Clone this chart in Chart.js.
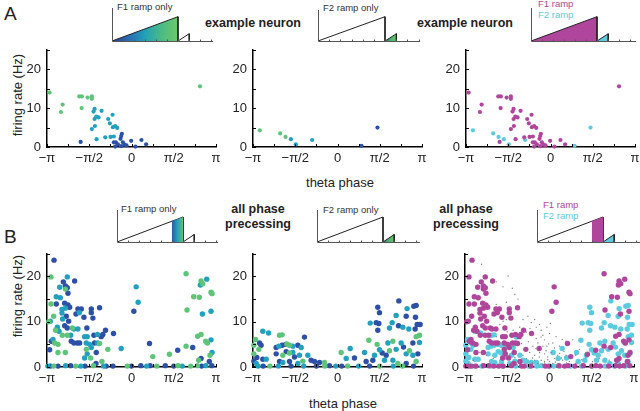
<!DOCTYPE html>
<html>
<head>
<meta charset="utf-8">
<script src="https://cdn.jsdelivr.net/npm/chart.js@4.4.0/dist/chart.umd.min.js"></script>
<style>
body { margin: 0; background: #fff; }
#fig { position: relative; width: 640px; height: 411px; overflow: hidden;
       font-family: "Liberation Sans", Arial, sans-serif; color: #222; }
canvas { position: absolute; }
.t { position: absolute; white-space: nowrap; line-height: 1; transform: translate(-50%, -50%); }
.l { position: absolute; white-space: nowrap; line-height: 1; transform: translateY(-50%); }
.lbl { font-size: 13px; }
.bold { font-weight: bold; font-size: 12.5px; }
.ins { font-size: 9.5px; color: #333; }
.panel { font-size: 19px; }
</style>
</head>
<body>
<div id="fig">
  <div class="l panel" style="left:4px;top:13px">A</div>
  <div class="l panel" style="left:4px;top:236px">B</div>

  <div class="t lbl" style="left:17px;top:95px;transform:translate(-50%,-50%) rotate(-90deg)">firing rate (Hz)</div>
  <div class="t lbl" style="left:17px;top:296px;transform:translate(-50%,-50%) rotate(-90deg)">firing rate (Hz)</div>
  <div class="t lbl" style="left:340px;top:182px">theta phase</div>
  <div class="t lbl" style="left:343px;top:403px">theta phase</div>

  <div class="t bold" style="left:253px;top:23px">example neuron</div>
  <div class="t bold" style="left:465px;top:23px">example neuron</div>
  <div class="t bold" style="left:258px;top:209px">all phase</div>
  <div class="t bold" style="left:258px;top:224px">precessing</div>
  <div class="t bold" style="left:466px;top:209px">all phase</div>
  <div class="t bold" style="left:466px;top:224px">precessing</div>

  <div class="l ins" style="left:117px;top:7px">F1 ramp only</div>
  <div class="l ins" style="left:323px;top:8px">F2 ramp only</div>
  <div class="l ins" style="left:538px;top:4px;color:#b0469c">F1 ramp</div>
  <div class="l ins" style="left:538px;top:15px;color:#5ccbe0">F2 ramp</div>
  <div class="l ins" style="left:121px;top:209px">F1 ramp only</div>
  <div class="l ins" style="left:323px;top:210px">F2 ramp only</div>
  <div class="l ins" style="left:543px;top:205px;color:#b0469c">F1 ramp</div>
  <div class="l ins" style="left:543px;top:216px;color:#5ccbe0">F2 ramp</div>

  <canvas id="insA1" width="102" height="34" style="left:111px;top:8px"></canvas>
  <canvas id="insA2" width="103" height="32" style="left:317px;top:10px"></canvas>
  <canvas id="insA3" width="106" height="34" style="left:530px;top:8px"></canvas>
  <canvas id="insB1" width="102" height="33" style="left:116px;top:210px"></canvas>
  <canvas id="insB2" width="104" height="33" style="left:316px;top:210px"></canvas>
  <canvas id="insB3" width="104" height="33" style="left:536px;top:210px"></canvas>

  <canvas id="a1" width="213" height="135" style="left:13px;top:36px"></canvas>
  <canvas id="a2" width="213" height="135" style="left:219px;top:36px"></canvas>
  <canvas id="a3" width="213" height="135" style="left:432px;top:36px"></canvas>
  <canvas id="b1" width="213" height="151" style="left:13px;top:240px"></canvas>
  <canvas id="b2" width="213" height="151" style="left:219px;top:240px"></canvas>
  <canvas id="b3" width="213" height="151" style="left:431px;top:240px"></canvas>
</div>
<script>
// phase in multiples of pi, rate in Hz
const a1Green = [[-0.969,14.0],[0.811,15.6],[-0.815,10.9],[-0.835,9.0],[-0.618,13.0],[-0.587,13.0],
  [-0.52,12.7],[-0.469,13.0],[-0.469,12.4],[-0.59,10.0]];
const a1Teal = [[-0.437,9.8],[-0.449,9.1],[-0.354,9.3],[-0.417,7.8],[-0.437,7.2],[-0.39,7.6],[-0.276,7.2],
  [-0.224,8.3],[-0.256,6.1],[-0.433,5.4],[-0.469,4.6],[-0.22,5.1],[-0.193,5.4],[-0.169,4.9],[-0.311,2.5],
  [-0.248,2.6],[-0.209,2.7],[-0.413,2.0]];
const a1Blue = [[-0.602,1.3],[-0.114,3.4],[-0.122,2.8],[-0.13,2.1],[-0.209,1.2],[-0.185,1.2],[-0.161,0.7],
  [-0.102,1.2],[-0.083,0.6],[-0.059,0.4],[-0.004,1.6],[0.118,1.8],[0.173,0.7],[0.047,0.1],[-0.193,0.1],[-0.122,0.2]];

const a2Green = [[-0.919,4.3],[-0.678,3.5],[-0.615,2.6]];
const a2Teal = [[-0.552,2.0],[-0.3,1.8],[-0.493,0.7]];
const a2Blue = [[0.284,0.3],[0.473,5.0]];

const b1Green = [[-0.953,19.9],[-0.783,17.2],[-0.953,13.9],[-0.921,11.2],[-0.98,10.0],[-0.898,8.1],[-0.819,7.0],
  [-0.76,7.0],[-0.701,8.6],[-0.91,5.3],[-0.87,5.0],[-0.87,3.2],[-0.783,3.2],[-0.535,3.9],[-0.484,2.0],[-0.378,5.2],
  [-0.28,3.9],[0.252,2.3],[0.449,2.8],[0.646,4.6],[0.646,20.6],[0.657,12.6],[0.736,15.5],[0.803,15.4],[0.823,19.0],
  [0.843,18.4],[0.941,16.5],[0.953,16.2],[0.783,6.8],[0.823,7.2],[0.878,5.7],[0.898,5.3],[0.929,2.6],[0.795,1.5],
  [-0.35,1.2],[-0.92,0.2],[-0.66,0.2],[-0.45,0.3],[-0.05,0.2],[0.3,0.2],[0.55,0.3],[0.7,0.2],[0.78,0.3]];
const b1Teal = [[-0.76,19.9],[-0.85,17.6],[-0.89,15.5],[-0.843,15.3],[-0.783,13.0],[-0.823,12.7],[-0.823,11.9],
  [-0.815,10.6],[-0.961,10.1],[-0.618,12.0],[-0.878,8.8],[-0.858,7.9],[-0.72,7.0],[-0.681,8.4],[-0.634,8.4],
  [-0.929,6.1],[-0.555,6.7],[-0.524,6.7],[-0.535,5.3],[-0.496,5.0],[-0.476,4.3],[-0.524,2.9],[-0.402,7.2],
  [-0.402,5.3],[-0.122,4.1],[-0.555,2.0],[0.055,17.7],[0.079,14.3],[0.89,19.4],[0.815,18.1],[0.839,11.7],
  [0.941,12.3],[0.941,6.0],[0.953,3.2],[-0.99,0.2],[-0.78,0.3],[-0.6,0.2],[-0.33,0.2],[0.18,0.2],[0.6,0.2],[0.88,0.3]];
const b1Blue = [[-0.917,23.6],[-0.807,18.8],[-0.783,17.9],[-0.76,17.5],[-0.673,19.0],[-0.752,16.3],[-0.89,13.9],
  [-0.791,14.1],[-0.752,13.7],[-0.732,13.2],[-0.634,12.8],[-0.594,12.8],[-0.476,12.8],[-0.476,12.0],[-0.378,13.1],
  [-0.657,11.7],[-0.563,11.0],[-0.457,10.8],[-0.772,11.2],[-0.744,10.1],[-0.791,9.1],[-0.76,8.6],[-0.528,8.6],
  [-0.949,5.7],[-0.969,3.8],[-0.713,5.7],[-0.681,5.3],[-0.642,5.3],[-0.614,5.3],[-0.445,7.0],[-0.437,5.3],
  [-0.358,6.7],[-0.339,7.2],[-0.307,8.1],[-0.213,7.4],[-0.417,3.2],[0.028,12.3],[0.213,5.2],[0.547,3.7],
  [0.724,4.3],[0.823,1.9],[0.921,1.2],[-0.96,0.2],[-0.87,0.2],[-0.72,0.3],[-0.55,0.2],[-0.42,0.8],[-0.3,0.2],
  [-0.22,0.2],[0.0,0.2],[0.11,0.3],[0.22,0.3],[0.4,0.3],[0.5,0.2],[0.83,0.2],[0.95,0.3]];

const b2Green = [[-0.97,6.1],[-0.99,4.8],[-0.931,3.9],[-0.99,2.9],[-0.686,7.0],[-0.655,7.1],[-0.6,5.1],
  [-0.568,4.8],[-0.568,3.1],[-0.647,2.6],[-0.41,1.3],[-0.154,1.0],[0.043,3.2],[0.371,5.9],[0.469,5.0],[0.97,7.0],
  [0.931,6.7],[0.655,5.7],[0.615,3.6],[0.852,3.6],[0.714,0.8],[0.931,1.2],[-0.8,0.2],[-0.15,0.2],[0.12,0.2],
  [0.5,0.2],[0.77,0.2]];
const b2Teal = [[-0.884,7.9],[-0.816,7.5],[-0.844,1.7],[-0.962,0.8],[-0.694,4.6],[-0.529,4.6],[-0.43,4.3],
  [-0.529,3.2],[-0.45,2.6],[-0.351,2.6],[-0.647,1.0],[-0.469,0.8],[0.15,4.1],[0.103,1.9],[0.32,3.2],[0.387,9.7],
  [0.438,2.6],[0.497,3.8],[0.556,1.5],[0.615,8.6],[0.647,9.8],[0.694,11.4],[0.773,8.8],[0.824,12.9],[0.844,8.4],
  [0.97,5.4],[0.596,5.3],[0.694,3.9],[0.753,5.3],[0.813,2.9],[0.892,2.6],[0.655,1.5],[-0.94,0.2],[-0.7,0.2],
  [-0.4,0.2],[-0.02,0.2],[0.25,0.2],[0.66,0.2]];
const b2Blue = [[-0.923,5.3],[-0.904,4.8],[-0.955,2.1],[-0.884,1.7],[-0.99,1.3],[-0.726,4.3],[-0.655,4.8],
  [-0.615,5.0],[-0.469,4.8],[-0.391,6.6],[-0.726,2.9],[-0.607,3.4],[-0.509,2.2],[-0.686,1.2],[-0.568,1.2],
  [-0.312,1.5],[-0.272,1.2],[-0.213,1.0],[-0.095,0.3],[0.201,2.0],[0.339,1.2],[0.477,13.2],[0.497,12.0],
  [0.458,9.8],[0.489,9.6],[0.477,8.1],[0.418,1.5],[0.529,3.1],[0.726,14.6],[0.722,9.1],[0.813,11.2],[0.903,13.4],
  [0.931,13.6],[0.923,11.0],[0.943,9.4],[0.978,9.4],[0.919,8.4],[0.892,5.3],[0.951,2.9],[0.576,2.6],[0.781,4.4],
  [0.813,0.8],[-0.88,0.2],[-0.55,0.2],[-0.25,0.2],[0.05,0.2],[0.38,0.2],[0.9,0.2]];

// non-precessing cells, small grey dots in the last panel
const b3Grey = [[-0.804,22.7],[-0.49,20.1],[-0.627,18.8],[-0.55,17.7],[-0.51,14.3],[-0.47,13.2],[-0.41,16.0],
  [-0.37,12.9],[-0.314,10.5],[-0.255,11.2],[-0.216,9.8],[-0.176,10.5],[-0.157,8.8],[-0.118,9.4],[-0.098,8.1],
  [-0.078,7.0],[-0.059,6.0],[-0.031,8.8],[0,7.4],[0.039,5.3],[0.078,6.7],[0.118,4.6],[0.196,5.7],[0.275,6.0],
  [0.353,3.9],[0.31,2.6],[0.43,2.2],[-0.078,4.6],[-0.137,5.3],[-0.196,4.6],[-0.235,3.2],[-0.176,2.6],[-0.118,3.2],
  [-0.059,2.9],[-0.02,2.2],[0.02,3.2],[0.059,1.9],[0.098,2.6],[0.157,1.5],[0.196,2.6],[0.235,1.2],[-0.098,1.5],
  [-0.059,1.2],[-0.137,0.8],[-0.176,1.5],[-0.275,1.9],[-0.314,2.6],[-0.353,1.2],[-0.392,3.2],[-0.431,4.6],
  [-0.471,2.6],[-0.549,3.6],[-0.588,5.3],[-0.667,1.9],[-0.745,2.6],[-0.824,3.2],[-0.902,1.5],[-0.686,8.1],
  [-0.588,9.4],[-0.51,10.5],[-0.275,7.7],[-0.216,7.0],[-0.157,6.3],[-0.031,4.6],[0,1.2],[0.039,0.8],[0.118,0.8],
  [0.31,0.8],[0.51,1.2],[0.588,1.9],[0.706,1.5],[0.824,1.2],[0.902,2.6],[-0.353,8.8],[-0.431,8.1],[-0.627,6.7],
  [-0.471,11.5],[-0.373,15.0],[-0.549,10.1],[-0.08,0.5],[-0.02,1.6],[0.07,1.1],[0.14,2.0],[-0.2,0.9],[-0.12,2.2],
  [-0.25,5.6],[-0.16,4.1],[-0.04,3.6],[0.06,4.2],[0.17,3.4],[0.26,2.1],[0.38,1.6],[-0.29,4.0],[-0.1,6.6],
  [-0.01,5.1],[0.12,3.0],[-0.2,2.0],[-0.06,0.9],[0.09,0.5],[0.2,0.9],[-0.33,5.2],[-0.41,2.1],[0.44,3.1],
  [-0.5,7.8],[-0.23,8.5],[0.01,9.6],[0.15,6.1],[-0.63,13.8],[-0.44,17.4]];

// ramp schematics (x: fraction of field, y: relative drive)
const rampBig = [[0, 0], [1, 1], [1, 0]];
const rampSmall = [[1, 0], [1.17, 0.3], [1.17, 0]];
const rampStrip = [[0.83, 0], [0.83, 0.83], [1, 1], [1, 0]];

const phaseLabels = { "-1": "\u2212\u03c0", "-0.5": "\u2212\u03c0/2", "0": "0", "0.5": "\u03c0/2", "1": "\u03c0" };

const BLUE = "#2d50a6", TEAL = "#21a0bf", GREEN = "#5dc47a";
const MAG = "#b0469c", CYAN = "#5ccbe0", GREY = "#808080";
const FONT = '"Liberation Sans", Arial, sans-serif';

const toPts = (arr) => arr.map(([x, y]) => ({ x, y }));

// MATLAB-like inward tick marks
const inTicks = {
    id: "inTicks",
    afterDraw(chart) {
        const { ctx, chartArea: a, scales } = chart;
        ctx.save();
        ctx.strokeStyle = "#000";
        ctx.lineWidth = 1;
        ctx.beginPath();
        scales.x.ticks.forEach((t) => {
            const px = Math.round(scales.x.getPixelForValue(t.value)) + 0.5;
            ctx.moveTo(px, a.bottom);
            ctx.lineTo(px, a.bottom - 3);
        });
        scales.y.ticks.forEach((t) => {
            const py = Math.round(scales.y.getPixelForValue(t.value)) + 0.5;
            ctx.moveTo(a.left, py);
            ctx.lineTo(a.left + 3, py);
        });
        ctx.stroke();
        ctx.restore();
    },
};

function dot(arr, color, r) {
    return {
        data: toPts(arr),
        pointBackgroundColor: color,
        pointBorderWidth: 0,
        pointRadius: r,
        clip: false,
    };
}

function scatterPanel(id, datasets) {
    new Chart(document.getElementById(id), {
        type: "scatter",
        data: { datasets },
        options: {
            responsive: false,
            animation: false,
            layout: { padding: { top: 6, right: 10, left: 0, bottom: 0 } },
            plugins: { legend: { display: false }, tooltip: { enabled: false } },
            scales: {
                x: {
                    type: "linear",
                    min: -1,
                    max: 1,
                    afterFit: (s) => { s.height = 24; },
                    grid: { drawOnChartArea: false, drawTicks: false },
                    border: { color: "#000", width: 1.5 },
                    ticks: {
                        stepSize: 0.25,
                        autoSkip: false,
                        maxRotation: 0,
                        padding: 4,
                        color: "#222",
                        font: { family: FONT, size: 13 },
                        callback: (v) => phaseLabels[String(v)] ?? "",
                    },
                },
                y: {
                    min: 0,
                    max: 25,
                    afterFit: (s) => { s.width = 34; },
                    grid: { drawOnChartArea: false, drawTicks: false },
                    border: { color: "#000", width: 1.5 },
                    ticks: {
                        stepSize: 5,
                        padding: 6,
                        color: "#222",
                        font: { family: FONT, size: 13 },
                        callback: (v) => (v % 10 === 0 ? String(v) : ""),
                    },
                },
            },
        },
        plugins: [inTicks],
    });
}

// === Fila A: neurona de ejemplo ===
scatterPanel("a1", [dot(a1Green, GREEN, 2.1), dot(a1Teal, TEAL, 2.1), dot(a1Blue, BLUE, 2.1)]);
scatterPanel("a2", [dot(a2Green, GREEN, 2.1), dot(a2Teal, TEAL, 2.1), dot(a2Blue, BLUE, 2.1)]);
scatterPanel("a3", [
    dot([...a1Green, ...a1Teal, ...a1Blue], MAG, 2.1),
    dot([...a2Green, ...a2Teal, ...a2Blue], CYAN, 2.1),
]);

// === Fila B: todas las celdas con precesión ===
scatterPanel("b1", [dot(b1Green, GREEN, 2.7), dot(b1Teal, TEAL, 2.7), dot(b1Blue, BLUE, 2.7)]);
scatterPanel("b2", [dot(b2Green, GREEN, 2.7), dot(b2Teal, TEAL, 2.7), dot(b2Blue, BLUE, 2.7)]);
scatterPanel("b3", [
    dot(b3Grey, GREY, 0.7),
    dot([...b1Green, ...b1Teal, ...b1Blue], MAG, 2.7),
    dot([...b2Green, ...b2Teal, ...b2Blue], CYAN, 2.7),
]);

// === Insets de rampa ===
function gradFill(from, to, stops) {
    return (c) => {
        const ch = c.chart;
        if (!ch.chartArea) return "rgba(0,0,0,0)";
        const x0 = ch.scales.x.getPixelForValue(from);
        const x1 = ch.scales.x.getPixelForValue(to);
        const g = ch.ctx.createLinearGradient(x0, 0, x1, 0);
        stops.forEach((s, i) => g.addColorStop(i / (stops.length - 1), s));
        return g;
    };
}

const insetFrame = {
    id: "insetFrame",
    afterDraw(chart) {
        const { ctx, chartArea: a, scales } = chart;
        ctx.save();
        ctx.strokeStyle = "#555";
        ctx.lineWidth = 1;
        ctx.beginPath();
        ctx.moveTo(a.left + 0.5, a.top);
        ctx.lineTo(a.left + 0.5, a.bottom + 0.5);
        ctx.lineTo(a.right, a.bottom + 0.5);
        for (let v = 1 / 6; v < scales.x.max; v += 1 / 6) {
            const px = Math.round(scales.x.getPixelForValue(v)) + 0.5;
            ctx.moveTo(px, a.bottom + 0.5);
            ctx.lineTo(px, a.bottom - 1.5);
        }
        ctx.stroke();
        ctx.restore();
    },
};

function rampSet(arr, fillColor, line) {
    return {
        data: toPts(arr),
        borderColor: line ? "#222" : "rgba(0,0,0,0)",
        borderWidth: line ? 1 : 0,
        backgroundColor: fillColor || "rgba(0,0,0,0)",
        fill: fillColor ? "origin" : false,
        pointRadius: 0,
        tension: 0,
    };
}

function inset(id, datasets, xMax, yMax) {
    new Chart(document.getElementById(id), {
        type: "line",
        data: { datasets },
        options: {
            responsive: false,
            animation: false,
            layout: { padding: { left: 1, bottom: 1, top: 0, right: 0 } },
            plugins: { legend: { display: false }, tooltip: { enabled: false } },
            scales: {
                x: { type: "linear", min: 0, max: xMax, display: false },
                y: { min: 0, max: yMax, display: false },
            },
        },
        plugins: [insetFrame],
    });
}

const f1Grad = gradFill(0, 1, ["#283c94", "#2a6cb0", "#22a0b8", "#4bbb84", "#6cc86a"]);
const f1Strip = gradFill(0.83, 1, ["#2d55aa", "#24a0b8", "#62c46e"]);
const f2Grad = gradFill(1, 1.17, ["#2c7a66", "#4caf74", "#6cc86a"]);

inset("insA1", [rampSet(rampBig, f1Grad, true), rampSet(rampSmall, null, true)], 101 / 66, 33 / 24.3);
inset("insA2", [rampSet(rampBig, null, true), rampSet(rampSmall, f2Grad, true)], 102 / 67, 31 / 24.3);
inset("insA3", [rampSet(rampBig, MAG, true), rampSet(rampSmall, CYAN, true)], 105 / 66, 33 / 24.3);
inset("insB1", [rampSet(rampStrip, f1Strip, false), rampSet(rampBig, null, true), rampSet(rampSmall, null, true)], 101 / 66, 32 / 25);
inset("insB2", [rampSet(rampBig, null, true), rampSet(rampSmall, f2Grad, true)], 103 / 66, 32 / 25);
inset("insB3", [rampSet(rampStrip, MAG, false), rampSet(rampBig, null, true), rampSet(rampSmall, CYAN, true)], 103 / 66, 32 / 25);
</script>
</body>
</html>
